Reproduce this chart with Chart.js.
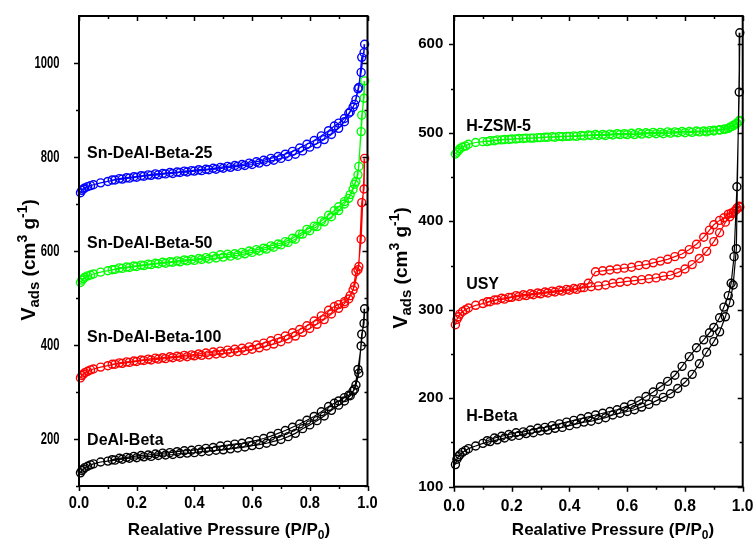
<!DOCTYPE html>
<html>
<head>
<meta charset="utf-8">
<script src="https://cdn.jsdelivr.net/npm/chart.js@4.4.0/dist/chart.umd.min.js"></script>
<style>
  html, body { margin: 0; padding: 0; background: #fff; }
  #wrap { position: relative; width: 754px; height: 540px; overflow: hidden; }
  #leftChart { position: absolute; left: 0; top: 0; }
  #rightChart { position: absolute; left: 377px; top: 0; }
</style>
</head>
<body>
<div id="wrap">
  <canvas id="leftChart" width="377" height="540"></canvas>
  <canvas id="rightChart" width="377" height="540"></canvas>
</div>
<script>
// relative pressure steps (adsorption up, desorption down)
const pAds = [0.005, 0.01, 0.015, 0.02, 0.03, 0.04, 0.05, 0.075, 0.1, 0.125, 0.15, 0.175, 0.2, 0.225, 0.25, 0.275,
  0.3, 0.325, 0.35, 0.375, 0.4, 0.425, 0.45, 0.475, 0.5, 0.525, 0.55, 0.575, 0.6, 0.625, 0.65, 0.675, 0.7, 0.725,
  0.75, 0.775, 0.8, 0.825, 0.85, 0.875, 0.9, 0.92, 0.94, 0.955, 0.967, 0.978, 0.99];
const pDes = [0.988, 0.98, 0.97, 0.96, 0.95, 0.935, 0.92, 0.9, 0.885, 0.865, 0.84, 0.815, 0.79, 0.765, 0.74, 0.715,
  0.69, 0.665, 0.64, 0.615, 0.59, 0.565, 0.54, 0.515, 0.49, 0.465, 0.44, 0.415, 0.39, 0.365, 0.34, 0.315, 0.29,
  0.265, 0.24, 0.215, 0.19, 0.165, 0.14, 0.115];

// left panel
const beta25Ads = [724, 729, 732, 734, 737, 739, 741, 745, 748, 751, 753, 755, 757, 759, 761, 762, 764, 765, 767, 768,
  770, 771, 773, 774, 776, 778, 780, 782, 784, 787, 790, 793, 797, 801, 806, 813, 821, 828, 837, 848, 861, 875, 896,
  912, 945, 980, 1040];
const beta25Des = [1022, 1012, 948, 922, 906, 893, 882, 872, 866, 856, 845, 835, 827, 819, 812, 806, 801, 797, 793,
  790, 787, 784, 782, 780, 778, 776, 774, 773, 771, 770, 768, 767, 765, 764, 762, 760, 758, 756, 754, 751];

const beta50Ads = [533, 538, 541, 544, 547, 549, 551, 555, 558, 561, 563, 565, 567, 569, 571, 573, 574, 576, 577, 579,
  580, 582, 583, 585, 587, 589, 591, 594, 597, 600, 604, 608, 613, 618, 625, 636, 643, 652, 662, 673, 686, 700, 720,
  742, 762, 854, 962];
const beta50Des = [925, 889, 780, 748, 731, 712, 705, 694, 686, 676, 664, 653, 646, 636, 627, 620, 615, 611, 606, 603,
  600, 597, 594, 593, 592, 589, 586, 584, 582, 581, 579, 577, 576, 574, 572, 570, 568, 566, 564, 560];

const beta100Ads = [330, 335, 338, 341, 344, 347, 349, 353, 356, 359, 361, 363, 365, 367, 368, 370, 371, 373, 374, 375,
  377, 378, 379, 381, 382, 384, 386, 388, 391, 394, 398, 402, 407, 413, 419, 427, 435, 444, 454, 466, 478, 488, 505,
  525, 560, 625, 797];
const beta100Des = [732, 703, 567, 556, 517, 498, 492, 486, 482, 474, 462, 451, 441, 433, 426, 419, 414, 409, 404, 400,
  396, 393, 391, 389, 387, 385, 383, 381, 379, 378, 376, 375, 373, 372, 370, 368, 366, 364, 362, 359];

const deAlAds = [128, 133, 136, 139, 142, 145, 147, 151, 153, 155, 157, 159, 160, 162, 163, 165, 166, 167, 169, 170,
  171, 173, 174, 176, 177, 179, 181, 183, 186, 188, 191, 195, 199, 205, 212, 222, 230, 239, 249, 261, 272, 281, 292,
  306, 348, 398, 477];
const deAlDes = [446, 423, 340, 315, 302, 293, 288, 281, 276, 269, 258, 248, 240, 232, 225, 218, 212, 206, 201, 197,
  194, 191, 189, 187, 185, 182, 180, 178, 176, 175, 173, 171, 170, 168, 166, 165, 163, 161, 159, 156];

// right panel
const zsmAds = [476, 478, 480, 482, 484, 485, 487, 489, 490, 491, 492, 492.5, 493, 493.5, 494, 494, 494.5, 495, 495,
  495.5, 496, 496, 496.5, 497, 497, 497, 497.5, 498, 498, 498, 498.5, 499, 499, 499, 499.5, 500, 500, 500.5, 501, 501,
  502, 503, 504, 506, 508, 510, 514];
const zsmDes = [513, 511, 509, 507, 505, 504, 503.5, 503, 502.5, 502, 502, 501.5, 501.5, 501, 501, 500.5, 500.5, 500,
  500, 499.5, 499, 499, 498.5, 498, 498, 497.5, 497, 496.5, 496, 496, 495.5, 495, 494.5, 494, 493.5, 493, 492.5, 492,
  491, 490];

const usyAds = [283, 289, 292, 295, 298, 300, 302, 305, 307, 309, 311, 312, 314, 315, 316, 317, 318, 319, 320, 321,
  322, 323, 325, 326, 327, 328, 330, 331, 332, 333, 334, 335, 336, 338, 339, 342, 346, 351, 358, 366, 377, 387, 399,
  405, 409, 413, 416];
const usyDes = [417, 415, 411, 409, 408, 404, 401, 396, 390, 382, 374, 368, 363, 360, 357, 355, 353, 351, 350, 348,
  347, 346, 345, 344, 343, 330, 325, 324, 323, 322, 321, 320, 319, 318, 317, 316, 314, 313, 311, 309];

const hBetaAds = [125, 131, 134, 136, 139, 141, 143, 146, 149, 151, 153, 155, 157, 158, 160, 161, 163, 164, 166, 167,
  169, 171, 173, 174, 176, 178, 181, 183, 185, 187, 190, 193, 197, 201, 205, 211, 218, 227, 239, 252, 264, 275, 292,
  308, 328, 369, 613];
const hBetaDes = [546, 439, 360, 330, 316, 303, 291, 280, 274, 266, 257, 247, 236, 226, 219, 213, 207, 202, 197, 193,
  190, 187, 185, 183, 181, 179, 177, 175, 173, 171, 169, 167, 166, 164, 162, 161, 159, 157, 155, 152];

// axes
const xMajor = [0, 0.2, 0.4, 0.6, 0.8, 1.0];
const xMinor = [0.1, 0.3, 0.5, 0.7, 0.9];
const leftYMajor = [200, 400, 600, 800, 1000];
const leftYMinor = [100, 300, 500, 700, 900];
const rightYMajor = [100, 200, 300, 400, 500, 600];
const rightYMinor = [150, 250, 350, 450, 550];

const FONT = "'Liberation Sans', Arial, Helvetica, sans-serif";

function isotherm(ads, des) {
  return pAds.map((p, i) => ({ x: p, y: ads[i] }))
    .concat(pDes.map((p, i) => ({ x: p, y: des[i] })));
}

function series(label, color, ads, des) {
  return {
    label: label,
    data: isotherm(ads, des),
    borderColor: color,
    borderWidth: 1.2,
    pointRadius: 4,
    pointBorderWidth: 1.4,
    pointBorderColor: color,
    pointBackgroundColor: 'rgba(0,0,0,0)',
    showLine: true,
    tension: 0,
    clip: false
  };
}

function richText(ctx, parts, x, y) {
  let w = 0;
  parts.forEach(p => {
    ctx.font = 'bold ' + p.size + 'px ' + FONT;
    p.w = ctx.measureText(p.t).width;
    w += p.w;
  });
  let cx = x - w / 2;
  parts.forEach(p => {
    ctx.font = 'bold ' + p.size + 'px ' + FONT;
    ctx.fillText(p.t, cx, y + (p.dy || 0));
    cx += p.w;
  });
}

// text squeezed horizontally, like the narrow tick numbers of the figure
function squeezed(ctx, text, x, y, sx, align) {
  ctx.save();
  ctx.translate(x, y);
  ctx.scale(sx, 1);
  ctx.textAlign = align;
  ctx.fillText(text, 0, 0);
  ctx.restore();
}

const framePlugin = {
  id: 'frame',
  afterDatasetsDraw(chart, args, opts) {
    const { ctx, chartArea: a, scales } = chart;
    const x = scales.x, y = scales.y;
    ctx.save();
    ctx.strokeStyle = '#000';
    ctx.fillStyle = '#000';
    ctx.lineWidth = 2;
    ctx.strokeRect(a.left, a.top, a.right - a.left, a.bottom - a.top);

    ctx.lineWidth = 1.5;
    ctx.beginPath();
    const xt = (vals, len) => vals.forEach(v => {
      const px = Math.round(x.getPixelForValue(v)) + 0.5;
      ctx.moveTo(px, a.bottom); ctx.lineTo(px, a.bottom + len);
      ctx.moveTo(px, a.top); ctx.lineTo(px, a.top + len);
    });
    const yt = (vals, len) => vals.forEach(v => {
      const py = Math.round(y.getPixelForValue(v)) + 0.5;
      ctx.moveTo(a.left, py); ctx.lineTo(a.left - len, py);
      ctx.moveTo(a.right, py); ctx.lineTo(a.right - len, py);
    });
    xt(xMajor, 5); xt(xMinor, 3);
    yt(opts.yMajor, 5); yt(opts.yMinor, 3);
    ctx.stroke();

    // tick numbers
    ctx.textBaseline = 'middle';
    const t = opts.tickText;
    ctx.font = 'bold ' + t.xSize + 'px ' + FONT;
    xMajor.forEach(v => squeezed(ctx, v.toFixed(1), x.getPixelForValue(v), t.xMid, t.xSx, 'center'));
    ctx.font = 'bold ' + t.ySize + 'px ' + FONT;
    opts.yMajor.forEach(v => squeezed(ctx, String(v), t.yRight, y.getPixelForValue(v), t.ySx, 'right'));

    // sample names
    ctx.font = 'bold 16px ' + FONT;
    ctx.textAlign = 'left';
    opts.names.forEach(n => {
      ctx.fillText(n.text, x.getPixelForValue(n.x), y.getPixelForValue(n.y));
    });

    // axis titles
    ctx.textBaseline = 'alphabetic';
    richText(ctx, [
      { t: 'Realative Pressure (P/P', size: 17 },
      { t: '0', size: 12, dy: 4 },
      { t: ')', size: 17 }
    ], opts.xTitle[0], opts.xTitle[1]);

    ctx.save();
    ctx.translate(opts.yTitle[0], opts.yTitle[1]);
    ctx.rotate(-Math.PI / 2);
    richText(ctx, [
      { t: 'V', size: 20 },
      { t: 'ads', size: 15, dy: 4 },
      { t: ' (cm', size: 19 },
      { t: '3', size: 14, dy: -8 },
      { t: ' g', size: 19 },
      { t: '-1', size: 14, dy: -8 },
      { t: ')', size: 19 }
    ], 0, 0);
    ctx.restore();
    ctx.restore();
  }
};

function noPad(s) {
  s.paddingLeft = 0; s.paddingRight = 0; s.paddingTop = 0; s.paddingBottom = 0;
}

function makeChart(id, datasets, yMin, yMax, box, frame) {
  return new Chart(document.getElementById(id), {
    type: 'scatter',
    data: { datasets: datasets },
    options: {
      responsive: false,
      animation: false,
      layout: { padding: { top: box.top, right: box.right, bottom: 0, left: 0 } },
      plugins: {
        legend: { display: false },
        tooltip: { enabled: false },
        frame: frame
      },
      scales: {
        x: {
          type: 'linear',
          min: 0,
          max: 1,
          grid: { display: false, drawTicks: false },
          border: { display: false },
          ticks: { display: false },
          afterFit: s => { s.height = box.xHeight; noPad(s); }
        },
        y: {
          type: 'linear',
          min: yMin,
          max: yMax,
          grid: { display: false, drawTicks: false },
          border: { display: false },
          ticks: { display: false },
          afterFit: s => { s.width = box.yWidth; noPad(s); }
        }
      }
    },
    plugins: [framePlugin]
  });
}

makeChart('leftChart', [
  series('DeAl-Beta', '#000000', deAlAds, deAlDes),
  series('Sn-DeAl-Beta-100', '#ff0000', beta100Ads, beta100Des),
  series('Sn-DeAl-Beta-50', '#00ff00', beta50Ads, beta50Des),
  series('Sn-DeAl-Beta-25', '#0000ff', beta25Ads, beta25Des)
], 100, 1100,
  { top: 16, right: 9.5, xHeight: 54, yWidth: 79 },
  {
    yMajor: leftYMajor, yMinor: leftYMinor,
    tickText: { xSize: 17, xSx: 0.86, xMid: 503, ySize: 17, ySx: 0.66, yRight: 59.5 },
    names: [
      { text: 'Sn-DeAl-Beta-25', x: 0.028, y: 808 },
      { text: 'Sn-DeAl-Beta-50', x: 0.028, y: 615 },
      { text: 'Sn-DeAl-Beta-100', x: 0.028, y: 415 },
      { text: 'DeAl-Beta', x: 0.028, y: 196 }
    ],
    xTitle: [229, 535],
    yTitle: [35, 260]
  });

makeChart('rightChart', [
  series('H-Beta', '#000000', hBetaAds, hBetaDes),
  series('USY', '#ff0000', usyAds, usyDes),
  series('H-ZSM-5', '#00ff00', zsmAds, zsmDes)
], 100, 632,
  { top: 16, right: 11.3, xHeight: 53.3, yWidth: 77 },
  {
    yMajor: rightYMajor, yMinor: rightYMinor,
    tickText: { xSize: 17, xSx: 0.92, xMid: 506, ySize: 15, ySx: 1.0, yRight: 66.3 },
    names: [
      { text: 'H-ZSM-5', x: 0.042, y: 507 },
      { text: 'USY', x: 0.042, y: 328 },
      { text: 'H-Beta', x: 0.042, y: 179 }
    ],
    xTitle: [236, 535],
    yTitle: [30, 268]
  });
</script>
</body>
</html>
